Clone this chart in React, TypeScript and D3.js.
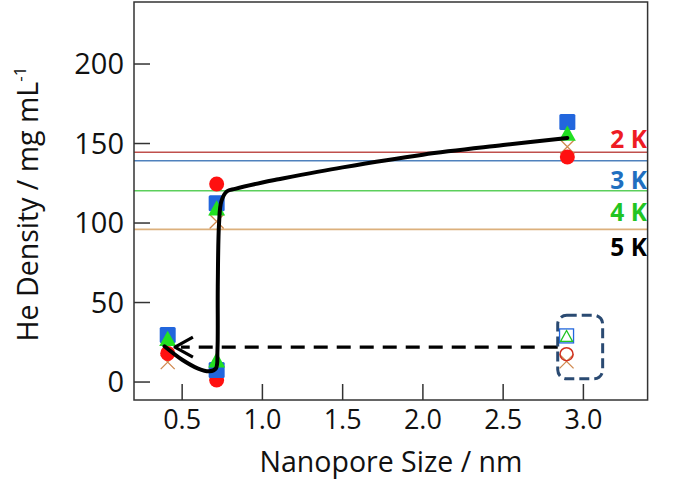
import React from "react";
import * as d3 from "d3";

// ---- data ----
const xTicks = [0.5, 1.0, 1.5, 2.0, 2.5, 3.0];
const yTicks = [0, 50, 100, 150, 200];

// marker data (nanopore size, density) per temperature
const squareBlue: [number, number][] = [[0.41, 29.5], [0.715, 112.5], [0.715, 7.5], [2.9, 163.5]];
const triangleGreen: [number, number][] = [[0.41, 27.5], [0.715, 109.5], [0.715, 14], [2.9, 156.5]];
const circleRed: [number, number][] = [[0.41, 18], [0.715, 124.5], [0.715, 1.3], [2.9, 141.5]];
const crossOrange: [number, number][] = [[0.41, 12.5], [0.715, 101], [0.715, 5], [2.9, 148]];

// black trend curve
const curvePts: [number, number][] = [
  [0.39, 22.5], [0.5, 14], [0.6, 8.5], [0.67, 6.8], [0.71, 8.5], [0.72, 20],
  [0.722, 60], [0.73, 100], [0.745, 114], [0.78, 120], [0.83, 121.5],
  [1.0, 125.5], [1.1, 127.5], [1.5, 135], [2.0, 143], [2.5, 149], [2.9, 153.5],
];

// horizontal reference lines (bulk liquid densities)
const refLabels = ["2 K", "3 K", "4 K", "5 K"];
const refValues = [144.5, 139.2, 120.3, 96.0];
const refLineColors = ["#c0504d", "#4f81bd", "#5ccf5c", "#dcb07c"];
const refTextColors = ["#ee1c24", "#1f6fc0", "#22c422", "#000000"];
const refTextY = [152.5, 127, 107, 85]; // label vertical positions in data units

// arrow & box
const arrowY = 22;
const arrowFrom = 2.84;
const arrowTo = 0.455;
const boxX = [2.84, 3.12];
const boxY = [2, 42];
const legendSym = { x: 2.895, square: 29, circle: 17.5, cross: 13 };

export default function App() {
  const W = 675, H = 480;
  const x = d3.scaleLinear().domain([0.2, 3.4]).range([134, 647.6]);
  const y = d3.scaleLinear().domain([-11.3, 239]).range([400, 2]);
  const font = "'Open Sans', sans-serif";

  const line = d3.line<[number, number]>()
    .x((d) => x(d[0]))
    .y((d) => y(d[1]))
    .curve(d3.curveCatmullRom.alpha(0.5));

  const tri = (cx: number, cy: number, s: number) => {
    const h = s * 0.9;
    return `M${cx},${cy - h / 2}L${cx + s / 2},${cy + h / 2}L${cx - s / 2},${cy + h / 2}Z`;
  };
  const cross = (cx: number, cy: number, s: number) =>
    `M${cx - s / 2},${cy - s / 2}L${cx + s / 2},${cy + s / 2}M${cx - s / 2},${cy + s / 2}L${cx + s / 2},${cy - s / 2}`;

  const ax = x(arrowTo), ay = y(arrowY);

  return (
    <svg width={W} height={H} style={{ position: "absolute", left: 0, top: 0, background: "#fff" }}>
      {/* reference lines */}
      {refValues.map((v, i) => (
        <line key={"r" + i} x1={x(0.2)} x2={x(3.4)} y1={y(v)} y2={y(v)} stroke={refLineColors[i]} strokeWidth={1.6} />
      ))}
      {/* frame */}
      <rect x={x(0.2)} y={y(239)} width={x(3.4) - x(0.2)} height={y(-11.3) - y(239)} fill="none" stroke="#333" strokeWidth={1.5} />
      {/* ticks */}
      {yTicks.map((t) => (
        <g key={"y" + t}>
          <line x1={x(0.2)} x2={x(0.2) + 16} y1={y(t)} y2={y(t)} stroke="#333" strokeWidth={1.5} />
          <text x={124} y={y(t)} dy="0.36em" textAnchor="end" fontFamily={font} fontSize={29} fill="#111">{t}</text>
        </g>
      ))}
      {xTicks.map((t) => (
        <g key={"x" + t}>
          <line x1={x(t)} x2={x(t)} y1={y(-11.3)} y2={y(-11.3) - 16} stroke="#333" strokeWidth={1.5} />
          <text x={x(t)} y={429} textAnchor="middle" fontFamily={font} fontSize={27} fill="#111">{t.toFixed(1)}</text>
        </g>
      ))}
      {/* axis titles */}
      <text x={391} y={472} textAnchor="middle" fontFamily={font} fontSize={28.5} fill="#111">Nanopore Size / nm</text>
      <text transform={`translate(38,${204}) rotate(-90)`} textAnchor="middle" fontFamily={font} fontSize={28.5} fill="#111">
        He Density / mg mL<tspan dy="-12" fontSize={17}>-1</tspan>
      </text>
      {/* markers */}
      {crossOrange.map((d, i) => (
        <path key={"c" + i} d={cross(x(d[0]), y(d[1]), 14)} stroke="#d08a50" strokeWidth={1.3} fill="none" />
      ))}
      {circleRed.map((d, i) => (
        <circle key={"o" + i} cx={x(d[0])} cy={y(d[1])} r={7.5} fill="#ff1010" />
      ))}
      {squareBlue.map((d, i) => (
        <rect key={"s" + i} x={x(d[0]) - 8} y={y(d[1]) - 8} width={16} height={16} rx={1.5} fill="#2266dd" />
      ))}
      {triangleGreen.map((d, i) => (
        <path key={"t" + i} d={tri(x(d[0]), y(d[1]), 17)} fill="#22e022" />
      ))}
      {/* trend curve */}
      <path d={line(curvePts) || ""} fill="none" stroke="#000" strokeWidth={4} strokeLinecap="round" strokeLinejoin="round" />
      {/* dashed arrow */}
      <line x1={x(arrowFrom)} x2={ax + 6} y1={ay} y2={ay} stroke="#000" strokeWidth={3.2} strokeDasharray="14,9" />
      <path d={`M${ax + 18},${ay - 10}L${ax},${ay}L${ax + 18},${ay + 10}`} fill="none" stroke="#000" strokeWidth={3.2} strokeLinejoin="round" />
      {/* dashed box */}
      <rect x={x(boxX[0])} y={y(boxY[1])} width={x(boxX[1]) - x(boxX[0])} height={y(boxY[0]) - y(boxY[1])} rx={9} fill="none" stroke="#2a4a72" strokeWidth={3} strokeDasharray="10,5" />
      <rect x={x(legendSym.x) - 7} y={y(legendSym.square) - 7} width={14} height={14} fill="none" stroke="#2266dd" strokeWidth={1.3} />
      <path d={tri(x(legendSym.x), y(legendSym.square), 12)} fill="none" stroke="#22c422" strokeWidth={1.3} />
      <path d={cross(x(legendSym.x), y(legendSym.cross), 14)} stroke="#d08a50" strokeWidth={1.3} fill="none" />
      <circle cx={x(legendSym.x)} cy={y(legendSym.circle)} r={6.5} fill="none" stroke="#d03020" strokeWidth={1.5} />
      {/* temperature labels */}
      {refLabels.map((l, i) => (
        <text key={"l" + i} x={647} y={y(refTextY[i])} dy="0.36em" textAnchor="end" fontFamily={font} fontWeight="bold" fontSize={24.5} fill={refTextColors[i]}>{l}</text>
      ))}
    </svg>
  );
}
